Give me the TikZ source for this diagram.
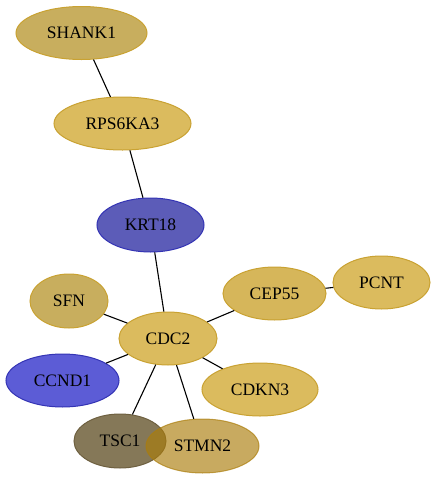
\documentclass[tikz,border=0pt]{standalone}
\usepackage{fontspec}
\setmainfont{Liberation Serif}
\usetikzlibrary{shapes.geometric}
\definecolor{goldA}{HTML}{C8AE5E}
\definecolor{goldB}{HTML}{DBBB5E}
\definecolor{goldC}{HTML}{D6B65A}
\definecolor{goldD}{HTML}{AB7D0B}
\definecolor{goldLine}{HTML}{C9A232}
\definecolor{blueA}{HTML}{5C5CB8}
\definecolor{blueB}{HTML}{5C5CD6}
\definecolor{blueLine}{HTML}{3434B4}
\definecolor{oliveA}{HTML}{857858}
\definecolor{oliveLine}{HTML}{6E6040}
\tikzset{
  gene/.style={ellipse, draw=goldLine, line width=1pt, inner sep=0pt,
    font=\fontsize{17.5}{20}\selectfont, text=black},
  link/.style={draw=black, line width=1.1pt}
}
\begin{document}
\begin{tikzpicture}[x=1pt,y=-1pt]
\useasboundingbox (0,0) rectangle (436,480);
\node[gene, fill=goldA, minimum width=131pt, minimum height=53pt] (shank1) at (81.5,33) {SHANK1};
\node[gene, fill=goldB, minimum width=137pt, minimum height=53pt] (rps6ka3) at (122.5,123.5) {RPS6KA3};
\node[gene, fill=blueA, draw=blueLine, minimum width=107pt, minimum height=54pt] (krt18) at (150.5,225) {KRT18};
\node[gene, fill=goldA, minimum width=78pt, minimum height=54pt] (sfn) at (69,301) {SFN};
\node[gene, fill=goldC, minimum width=103pt, minimum height=53pt] (cep55) at (274.5,293.5) {CEP55};
\node[gene, fill=goldB, minimum width=97pt, minimum height=53pt] (pcnt) at (381.5,282.5) {PCNT};
\node[gene, fill=goldB, minimum width=98pt, minimum height=53pt] (cdc2) at (168,338.5) {CDC2};
\node[gene, fill=blueB, draw=blueLine, minimum width=113pt, minimum height=53pt] (ccnd1) at (62.5,380.5) {CCND1};
\node[gene, fill=goldB, minimum width=116pt, minimum height=53pt] (cdkn3) at (260,389.5) {CDKN3};
\node[gene, fill=oliveA, draw=oliveLine, minimum width=92pt, minimum height=54pt] (tsc1) at (120,441) {TSC1};
\node[gene, fill=goldD, fill opacity=0.65, text opacity=1, draw=goldD, draw opacity=0.7, minimum width=113pt, minimum height=54pt] (stmn2) at (202.5,446) {STMN2};
\draw[link] (shank1) -- (rps6ka3);
\draw[link] (rps6ka3) -- (krt18);
\draw[link] (krt18) -- (cdc2);
\draw[link] (sfn) -- (cdc2);
\draw[link] (cep55) -- (cdc2);
\draw[link] (cep55) -- (pcnt);
\draw[link] (ccnd1) -- (cdc2);
\draw[link] (cdkn3) -- (cdc2);
\draw[link] (tsc1) -- (cdc2);
\draw[link] (stmn2) -- (cdc2);
\end{tikzpicture}
\end{document}
